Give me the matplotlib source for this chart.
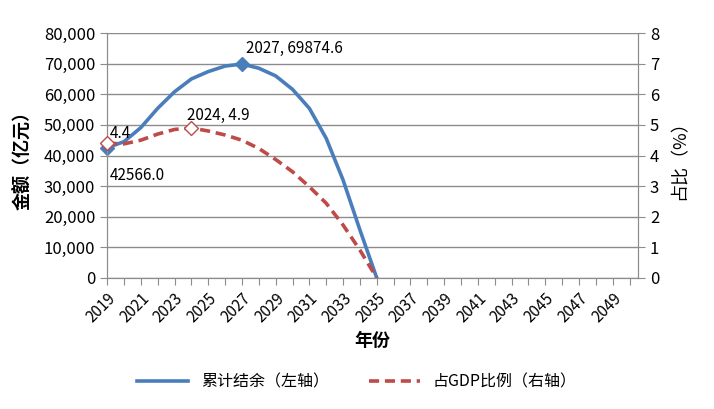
import numpy as np
import matplotlib
matplotlib.use("Agg")
import matplotlib.pyplot as plt
from matplotlib.ticker import FuncFormatter, MultipleLocator

plt.rcParams['font.family'] = ['Noto Sans CJK SC', 'DejaVu Sans']

# data
years = list(range(2019, 2036))
balance = [42566.0, 44500, 49100, 55400, 60800, 65000, 67400, 69200, 69874.6,
           68500, 66000, 61600, 55400, 45600, 32000, 15700, 0]
gdp_share = [4.4, 4.38, 4.5, 4.7, 4.85, 4.9, 4.8, 4.67, 4.5,
             4.23, 3.87, 3.47, 2.98, 2.44, 1.73, 0.91, 0]
tick_years = list(range(2019, 2051))
label_years = list(range(2019, 2050, 2))

blue = '#4A7EBB'
red = '#BE4B48'
grid_c = '#8C8C8C'

fig = plt.figure(figsize=(7.14, 4.09), dpi=100)
ax = fig.add_axes([0.150, 0.3203, 0.7436, 0.5990])
ax2 = ax.twinx()

ax.plot(years, balance, color=blue, lw=2.6, zorder=3, label='累计结余（左轴）')
ax2.plot(years, gdp_share, color=red, lw=2.6, ls=(0, (2.8, 1.6)), zorder=3,
         label='占GDP比例（右轴）')

# highlighted points
i0, i1 = 0, years.index(2027)
ax.plot([years[i0], years[i1]], [balance[i0], balance[i1]], 'D', color=blue,
        ms=7, zorder=4, clip_on=False)
j1 = years.index(2024)
ax2.plot([years[0], years[j1]], [gdp_share[0], gdp_share[j1]], 'D', mfc='white',
         mec=red, mew=1, ms=7, zorder=4, clip_on=False)

ax.annotate(f'{years[i1]}, {balance[i1]:.1f}', (years[i1], balance[i1]),
            xytext=(3, 8), textcoords='offset points', fontsize=11)
ax.annotate(f'{balance[0]:.1f}', (years[0], balance[0]),
            xytext=(2, -23), textcoords='offset points', fontsize=11)
ax2.annotate(f'{gdp_share[0]:.1f}', (years[0], gdp_share[0]),
             xytext=(2, 4), textcoords='offset points', fontsize=11)
ax2.annotate(f'{years[j1]}, {gdp_share[j1]:.1f}', (years[j1], gdp_share[j1]),
             xytext=(-3, 6), textcoords='offset points', fontsize=11)

ax.set_xlim(2019, 2050.5)
ax.set_ylim(0, 80000)
ax2.set_ylim(0, 8)
ax.yaxis.set_major_locator(MultipleLocator(10000))
ax2.yaxis.set_major_locator(MultipleLocator(1))
ax.yaxis.set_major_formatter(FuncFormatter(lambda v, p: f'{v:,.0f}'))

ax.set_xticks(tick_years)
ax.set_xticklabels([str(y) if y in label_years else '' for y in tick_years],
                   rotation=45, ha='right', rotation_mode='anchor')

ax.grid(axis='y', color=grid_c, lw=1)
ax.set_axisbelow(True)
for a in (ax, ax2):
    a.spines['top'].set_visible(False)
    for s in ('left', 'right', 'bottom'):
        a.spines[s].set_color(grid_c)
    a.tick_params(colors=grid_c, labelcolor='black', labelsize=12, length=5)
ax.tick_params(axis='x', labelsize=11)

ax.set_ylabel('金额（亿元）', fontsize=13, fontweight='bold', labelpad=8)
ax2.set_ylabel('占比（%）', fontsize=13, labelpad=8)
ax.set_xlabel('年份', fontsize=13, fontweight='bold', labelpad=4)

h1, l1 = ax.get_legend_handles_labels()
h2, l2 = ax2.get_legend_handles_labels()
fig.legend(h1 + h2, l1 + l2, loc='center', bbox_to_anchor=(0.5, 0.065), ncol=2,
           frameon=False, fontsize=11.5, handlelength=3.2, columnspacing=2.5)

fig.savefig('out.png', dpi=100)
